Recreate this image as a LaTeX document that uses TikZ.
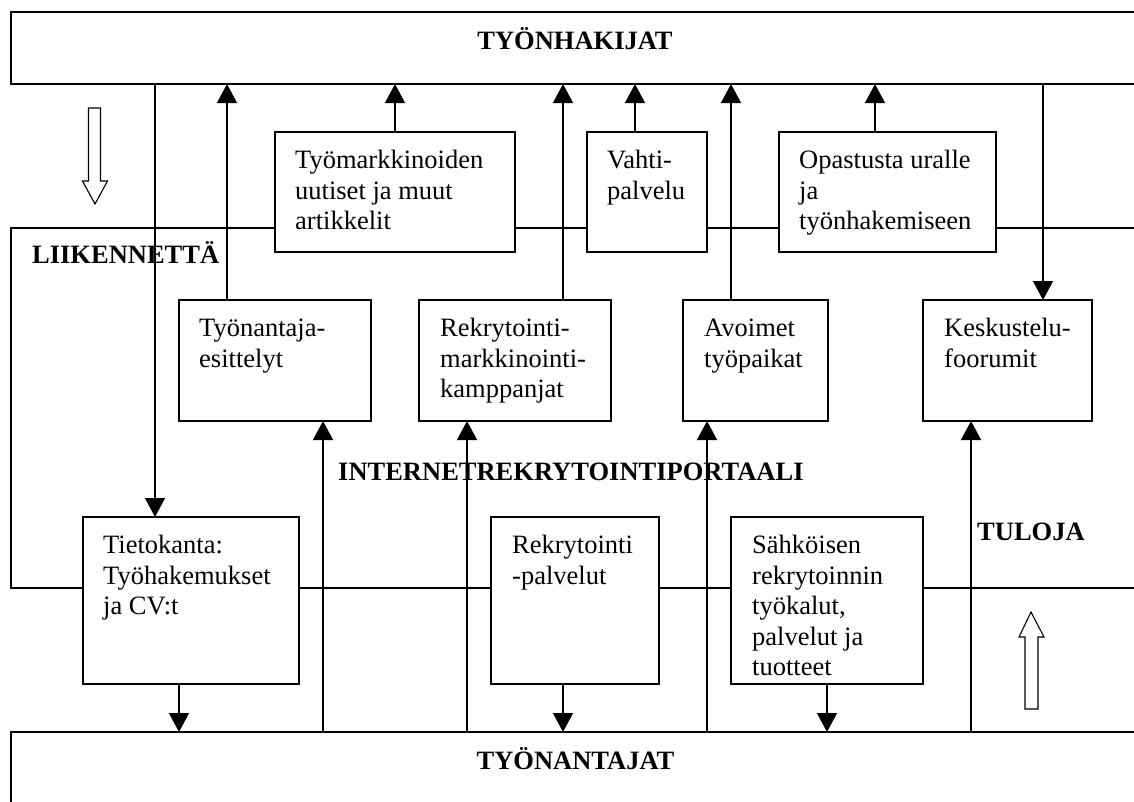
\documentclass[tikz,border=0pt]{standalone}
\usepackage{fontspec}
\setmainfont{Liberation Serif}
\usetikzlibrary{arrows.meta,calc}
\begin{document}
\begin{tikzpicture}[x=1pt,y=-1pt,
  frame/.style={draw,line width=1.2pt,inner sep=0pt,outer sep=0pt},
  box/.style={draw,fill=white,line width=1.2pt,inner sep=0pt,outer sep=0pt},
  txt/.style={font=\fontsize{26.5}{30.5}\selectfont,align=left,inner sep=0pt,anchor=north west},
  lbl/.style={font=\fontsize{26.5}{30.5}\selectfont\bfseries,inner sep=0pt},
  conn/.style={line width=1.3pt,-{Triangle[length=19pt,width=20pt]}},
  hollow/.style={draw,fill=white,line width=1.1pt,line join=miter}]
\clip (0,0) rectangle (1134,801);
\fill[white] (0,0) rectangle (1134,801);
% big frames
\node[frame,minimum width=1134pt,minimum height=72pt] (seekers) at (578,48) {};
\node[frame,minimum width=1134pt,minimum height=88pt] (employers) at (578,776) {};
\node[frame,minimum width=1134pt,minimum height=360pt] (portal) at (578,408) {};
% boxes
\node[box,minimum width=240pt,minimum height=120pt] (news) at (395,192) {};
\node[box,minimum width=120pt,minimum height=120pt] (watch) at (647,192) {};
\node[box,minimum width=217pt,minimum height=120pt] (guide) at (887.5,192) {};
\node[box,minimum width=192pt,minimum height=121pt] (present) at (275,360.5) {};
\node[box,minimum width=192pt,minimum height=121pt] (campaign) at (515,360.5) {};
\node[box,minimum width=145pt,minimum height=121pt] (jobs) at (755.5,360.5) {};
\node[box,minimum width=169pt,minimum height=121pt] (forum) at (1007.5,360.5) {};
\node[box,minimum width=216pt,minimum height=167pt] (db) at (191,600.5) {};
\node[box,minimum width=168pt,minimum height=167pt] (rservices) at (575,600.5) {};
\node[box,minimum width=192pt,minimum height=167pt] (tools) at (827,600.5) {};
% box texts
\node[txt] (newsT) at ($(news.north west)+(20,15.15)$) {\strut Työmarkkinoiden\\uutiset ja muut\\artikkelit};
\node[txt] (watchT) at ($(watch.north west)+(20,15.15)$) {\strut Vahti-\\palvelu};
\node[txt] (guideT) at ($(guide.north west)+(20,15.15)$) {\strut Opastusta uralle\\ja\\työnhakemiseen};
\node[txt] (presentT) at ($(present.north west)+(20,15.15)$) {\strut Työnantaja-\\esittelyt};
\node[txt] (campaignT) at ($(campaign.north west)+(21,15.15)$) {\strut Rekrytointi-\\markkinointi-\\kamppanjat};
\node[txt] (jobsT) at ($(jobs.north west)+(21,15.15)$) {\strut Avoimet\\työpaikat};
\node[txt] (forumT) at ($(forum.north west)+(21,15.15)$) {\strut Keskustelu-\\foorumit};
\node[txt] (dbT) at ($(db.north west)+(20,15.15)$) {\strut Tietokanta:\\Työhakemukset\\ja CV:t};
\node[txt] (rservicesT) at ($(rservices.north west)+(21,15.15)$) {\strut Rekrytointi\\-palvelut};
\node[txt] (toolsT) at ($(tools.north west)+(21,15.15)$) {\strut Sähköisen\\rekrytoinnin\\työkalut,\\palvelut ja\\tuotteet};
% labels
\node[lbl,anchor=base] (lseek) at (575,49) {TYÖNHAKIJAT};
\node[lbl,anchor=base] (lemp) at (575.5,769) {TYÖNANTAJAT};
\node[lbl,anchor=base west] (ltraffic) at (32,263) {LIIKENNETTÄ};
\node[lbl,anchor=base west] (lportal) at (338,480) {INTERNETREKRYTOINTIPORTAALI};
\node[lbl,anchor=base west] (lincome) at (977,540) {TULOJA};
% x positions of connectors
\foreach \n/\v in {a/155,b/227,c/563,d/635,e/731,f/875,g/1043,h/323,i/467,j/707,k/971,l/179,m/563,n/827}
  \coordinate (x\n) at (\v,0);
% connectors to/from job seekers
\draw[conn] (seekers.south -| xa) -- (db.north -| xa);
\draw[conn] (present.north -| xb) -- (seekers.south -| xb);
\draw[conn] (news.north) -- (seekers.south -| news.north);
\draw[conn] (campaign.north -| xc) -- (seekers.south -| xc);
\draw[conn] (watch.north -| xd) -- (seekers.south -| xd);
\draw[conn] (jobs.north -| xe) -- (seekers.south -| xe);
\draw[conn] (guide.north -| xf) -- (seekers.south -| xf);
\draw[conn] (seekers.south -| xg) -- (forum.north -| xg);
% connectors to/from employers
\draw[conn] (employers.north -| xh) -- (present.south -| xh);
\draw[conn] (employers.north -| xi) -- (campaign.south -| xi);
\draw[conn] (employers.north -| xj) -- (jobs.south -| xj);
\draw[conn] (employers.north -| xk) -- (forum.south -| xk);
\draw[conn] (db.south -| xl) -- (employers.north -| xl);
\draw[conn] (rservices.south -| xm) -- (employers.north -| xm);
\draw[conn] (tools.south) -- (employers.north -| tools.south);
% hollow block arrows
\draw[hollow] (88.5,108) -- (100.5,108) -- (100.5,181) -- (107.5,181) -- (95,204) -- (82.5,181) -- (88.5,181) -- cycle;
\draw[hollow] (1025,709) -- (1038,709) -- (1038,637) -- (1044,637) -- (1031,612) -- (1019,637) -- (1025,637) -- cycle;
\end{tikzpicture}
\end{document}
